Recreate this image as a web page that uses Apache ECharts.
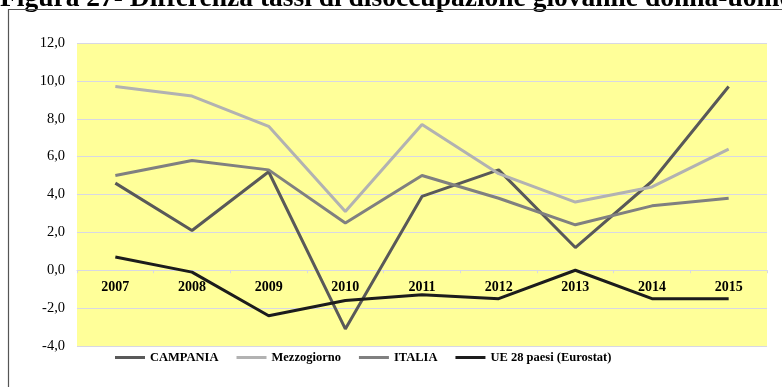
<!DOCTYPE html>
<html>
<head>
<meta charset="utf-8">
<script src="https://cdn.jsdelivr.net/npm/echarts@6/dist/echarts.min.js"></script>
<style>
  html, body { margin: 0; padding: 0; background: #ffffff; }
  #chart { width: 782px; height: 387px; }
</style>
</head>
<body>
<div id="chart"></div>
<script>
// Differenza tassi di disoccupazione giovanile donna-uomo (punti percentuali)
const years = ['2007', '2008', '2009', '2010', '2011', '2012', '2013', '2014', '2015'];
const campania    = [4.6, 2.1, 5.2, -3.1, 3.9, 5.3, 1.2, 4.7, 9.7];
const mezzogiorno = [9.7, 9.2, 7.6, 3.1, 7.7, 5.1, 3.6, 4.4, 6.4];
const italia      = [5.0, 5.8, 5.3, 2.5, 5.0, 3.8, 2.4, 3.4, 3.8];
const ue28        = [0.7, -0.1, -2.4, -1.6, -1.3, -1.5, 0.0, -1.5, -1.5];

const titleText = 'Figura 27- Differenza tassi di disoccupazione giovanile donna-uomo';
const serif = '"Liberation Serif", "Times New Roman", serif';

const Y_MIN = -4, Y_MAX = 12;
const GRID = { left: 77, right: 15, top: 43, bottom: 41 };
const plotHeight = 387 - GRID.top - GRID.bottom;
// shift the category axis up so it sits on the zero line
const zeroOffset = -plotHeight * (0 - Y_MIN) / (Y_MAX - Y_MIN);

const chart = echarts.init(document.getElementById('chart'), null, { renderer: 'canvas' });

function line(name, data, color) {
  return {
    name: name,
    type: 'line',
    data: data,
    symbol: 'none',
    lineStyle: { color: color, width: 3 },
    itemStyle: { color: color },
    z: 3
  };
}

chart.setOption({
  animation: false,
  backgroundColor: '#ffffff',
  graphic: [
    {
      type: 'text',
      left: 0,
      top: -15,
      style: {
        text: titleText,
        font: 'bold 27.5px ' + serif,
        fill: '#000000'
      },
      z: 10
    },
    {
      type: 'rect',
      shape: { x: 8.5, y: 9.5, width: 800, height: 400 },
      style: { fill: 'none', stroke: '#555555', lineWidth: 1.2 },
      z: 10
    }
  ],
  grid: {
    left: GRID.left,
    right: GRID.right,
    top: GRID.top,
    bottom: GRID.bottom,
    show: true,
    backgroundColor: '#ffff99',
    borderWidth: 0
  },
  legend: {
    left: 115,
    top: 351,
    padding: 0,
    icon: 'rect',
    itemWidth: 30,
    itemHeight: 3,
    itemGap: 18,
    textStyle: {
      fontFamily: serif,
      fontWeight: 'bold',
      fontSize: 12.5,
      color: '#000000'
    },
    data: ['CAMPANIA', 'Mezzogiorno', 'ITALIA', 'UE 28 paesi (Eurostat)']
  },
  xAxis: {
    type: 'category',
    data: years,
    boundaryGap: true,
    position: 'bottom',
    offset: zeroOffset,
    axisLine: { onZero: false, lineStyle: { color: '#d8d8e4', width: 1 } },
    axisTick: { show: true, length: 3, lineStyle: { color: '#d8d8e4' } },
    axisLabel: {
      fontFamily: serif,
      fontWeight: 'bold',
      fontSize: 14,
      color: '#000000',
      margin: 10
    },
    splitLine: { show: false }
  },
  yAxis: {
    type: 'value',
    min: Y_MIN,
    max: Y_MAX,
    interval: 2,
    axisLine: { show: false },
    axisTick: { show: false },
    axisLabel: {
      fontFamily: serif,
      fontSize: 14.5,
      color: '#000000',
      margin: 12,
      formatter: function (v) { return v.toFixed(1).replace('.', ','); }
    },
    splitLine: { show: true, lineStyle: { color: '#d8d8e4', width: 1 } }
  },
  series: [
    line('CAMPANIA', campania, '#595959'),
    line('Mezzogiorno', mezzogiorno, '#b2b2b2'),
    line('ITALIA', italia, '#808080'),
    line('UE 28 paesi (Eurostat)', ue28, '#1c1c1c')
  ]
});
</script>
</body>
</html>
